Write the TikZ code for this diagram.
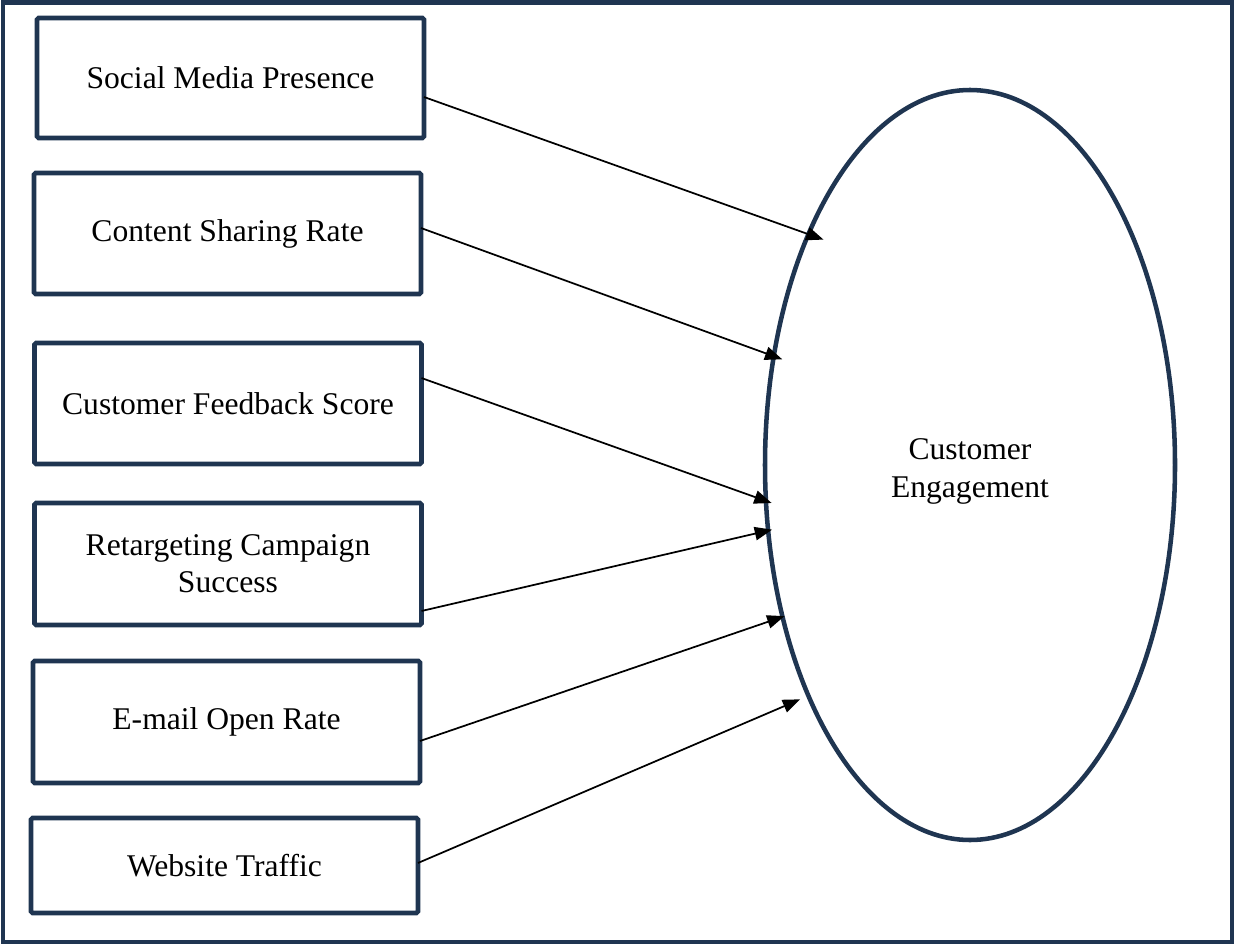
\documentclass[tikz,border=0pt]{standalone}
\usepackage{fontspec}
\setmainfont{Liberation Serif}
\usetikzlibrary{arrows.meta,shapes.geometric}
\definecolor{navy}{RGB}{31,53,81}
\begin{document}
\begin{tikzpicture}[x=0.75pt,y=-0.75pt,
  label text/.style={font=\fontsize{23.7}{28}\selectfont, align=center, text=black},
  factor/.style={label text, draw=navy, line width=3.5pt, rounded corners=1.2pt,
    minimum width=290.25pt, inner sep=0pt, outer sep=0pt},
  outcome/.style={label text, ellipse, draw=navy, line width=3.4pt,
    minimum width=307.5pt, minimum height=562.5pt, inner sep=0pt, outer sep=0pt},
  link/.style={draw=black, line width=1.3pt, -{Triangle[length=13pt,width=10pt]}}]

  % page extent and outer frame
  \useasboundingbox (0,0) rectangle (1234,945);
  \draw[navy, line width=3.6pt] (3,2.5) rectangle (1232,942);

  % driver boxes
  \node[factor, minimum height=90pt]    (b1) at (230.5,78)   {Social Media Presence};
  \node[factor, minimum height=90.75pt] (b2) at (227.5,233.5) {Content Sharing Rate};
  \node[factor, minimum height=90.75pt] (b3) at (228,403.5)  {Customer Feedback Score};
  \node[factor, minimum height=91.5pt]  (b4) at (228,564)    {Retargeting Campaign\\Success};
  \node[factor, minimum height=91.5pt]  (b5) at (226.5,722)  {E-mail Open Rate};
  \node[factor, minimum height=71.25pt] (b6) at (224.5,865.5) {Website Traffic};

  % outcome, its two-line label set slightly below the centre
  \node[outcome] (ce) at (970,465)
    {\raisebox{-4.5pt}[\height][\depth]{\begin{tabular}{@{}c@{}}Customer\\Engagement\end{tabular}}};

  % connectors
  \draw[link, shorten >=-12pt]  ([yshift=-14.25pt]b1.east) -- (ce.125.6);
  \draw[link, shorten >=-6.75pt]([yshift=4.1pt]b2.east)    -- (ce.151.3);
  \draw[link, shorten >=-4.5pt] ([yshift=19.1pt]b3.east)   -- (ce.190.5);
  \draw[link, shorten >=-3pt]   ([yshift=-35.25pt]b4.east) -- (ce.198.6);
  \draw[link, shorten >=-1.5pt] ([yshift=-14.25pt]b5.east) -- (ce.219.7);
  \draw[link, shorten >=6.75pt] ([yshift=1.9pt]b6.east)    -- (ce.235.7);
\end{tikzpicture}
\end{document}
